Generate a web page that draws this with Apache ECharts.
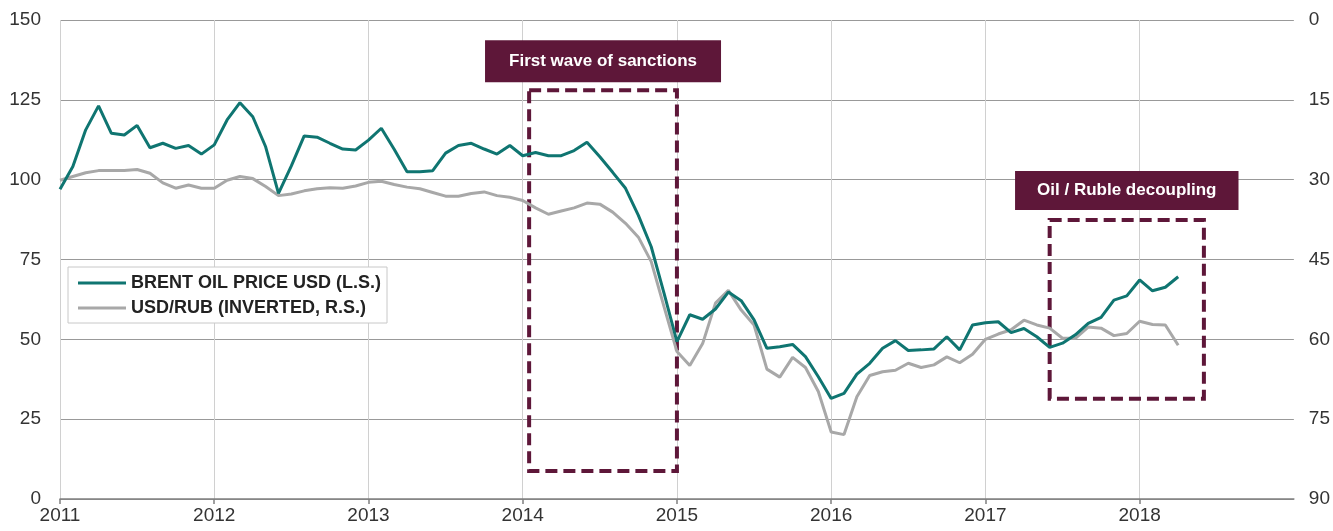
<!DOCTYPE html>
<html>
<head>
<meta charset="utf-8">
<script src="https://cdn.jsdelivr.net/npm/echarts@6/dist/echarts.min.js"></script>
<style>
html,body{margin:0;padding:0;background:#fff;}
#chart{width:1333px;height:531px;}
</style>
</head>
<body>
<div id="chart"></div>
<script>
// Monthly observations, Jan 2011 .. Apr 2018
var years = ['2011','2012','2013','2014','2015','2016','2017','2018','2019'];
var seriesNames = ['BRENT OIL PRICE USD (L.S.)', 'USD/RUB (INVERTED, R.S.)'];
var oil = [97, 104.1, 115.6, 123.1, 114.5, 114, 117, 110, 111.4, 109.8, 110.7, 108,
  110.9, 118.7, 124.1, 119.7, 110.3, 95.7, 104.3, 113.7, 113.3, 111.4, 109.6, 109.3,
  112.4, 116.1, 109.5, 102.5, 102.5, 102.8, 108.3, 110.7, 111.4, 109.6, 108, 110.7,
  107.5, 108.5, 107.5, 107.5, 109.1, 111.7, 107.2, 102.3, 97.3, 88.8, 79, 64.4,
  49.3, 57.7, 56.3, 59.5, 64.8, 62.1, 56.1, 47.2, 47.7, 48.4, 44.6, 38.3,
  31.5, 33.1, 39.1, 42.5, 47.2, 49.6, 46.5, 46.7, 47, 50.8, 46.7, 54.5,
  55.2, 55.5, 52.1, 53.4, 50.8, 47.5, 48.8, 51.4, 55, 56.9, 62.3, 63.6,
  68.6, 65.2, 66.3, 69.6];
var usdrub = [30.1, 29.4, 28.7, 28.3, 28.3, 28.3, 28.1, 28.8, 30.6, 31.6, 31, 31.6,
  31.6, 30.1, 29.4, 29.8, 31.3, 33, 32.7, 32.1, 31.7, 31.5, 31.6, 31.2,
  30.5, 30.3, 30.9, 31.4, 31.7, 32.4, 33.1, 33.1, 32.6, 32.3, 33, 33.3,
  33.9, 35.3, 36.5, 35.9, 35.3, 34.4, 34.6, 36.1, 38.2, 40.8, 45.4, 53.9,
  62.3, 64.9, 60.8, 53.2, 50.8, 54.5, 57.3, 65.6, 67.1, 63.4, 65.3, 69.8,
  77.4, 77.9, 70.8, 66.8, 66.1, 65.8, 64.5, 65.3, 64.8, 63.3, 64.4, 62.8,
  60, 59, 58.2, 56.4, 57.3, 57.9, 59.8, 59.8, 57.7, 57.9, 59.3, 58.9,
  56.6, 57.2, 57.3, 61.1];
var leftTicks = {min: 0, max: 150, interval: 25};
var rightTicks = {min: 0, max: 90, interval: 15};
// annotation boxes: [label, monthStart, monthEnd, oilLow, oilHigh]
var annotations = [
  ['First wave of sanctions', 36.5, 48, 8.8, 128],
  ['Oil / Ruble decoupling', 77, 89, 31.4, 87.4]
];

// month categories Jan 2011 .. Jan 2019
var months = [];
for (var y = 0; y < years.length; y++) {
  for (var m = 1; m <= 12; m++) {
    if (y === years.length - 1 && m > 1) break;
    months.push(years[y] + '-' + (m < 10 ? '0' + m : m));
  }
}
var lastIdx = months.length - 1;
var yearTick = function (idx) { return idx % 12 === 0 && idx < lastIdx; };

var MAROON = '#5e1739';
var TEAL = '#0f7571';
var GREY = '#a8a8a8';
var FONT = "'Liberation Sans', Arial, sans-serif";

var chart = echarts.init(document.getElementById('chart'), null, {renderer: 'canvas'});
chart.setOption({
  animation: false,
  backgroundColor: '#ffffff',
  textStyle: {fontFamily: FONT},
  grid: {left: 60, right: 39, top: 20, bottom: 32, containLabel: false},
  legend: {
    orient: 'vertical', left: 68, top: 267,
    data: seriesNames,
    icon: 'rect', itemWidth: 48, itemHeight: 3, itemGap: 5, itemStyle: {borderWidth: 0},
    backgroundColor: '#fff', borderColor: '#c8c8c8', borderWidth: 1,
    padding: [6, 6, 5, 10],
    textStyle: {fontFamily: FONT, fontWeight: 'bold', fontSize: 18, color: '#222', lineHeight: 20}
  },
  xAxis: [{
    type: 'category', data: months, boundaryGap: false,
    axisLine: {show: true, lineStyle: {color: '#808080', width: 1.5}},
    axisTick: {show: true, interval: yearTick, length: 5, lineStyle: {color: '#808080', width: 1.5}},
    axisLabel: {interval: yearTick, formatter: function (v) { return v.slice(0, 4); },
      fontSize: 19, color: '#333', margin: 7},
    splitLine: {show: true, interval: yearTick, lineStyle: {color: '#d0d0d0', width: 1}}
  }, {
    type: 'value', min: 0, max: lastIdx, show: false
  }],
  yAxis: [{
    type: 'value', min: leftTicks.min, max: leftTicks.max, interval: leftTicks.interval,
    axisLine: {show: false}, axisTick: {show: false},
    axisLabel: {fontSize: 19, color: '#333', margin: 19},
    splitLine: {show: true, lineStyle: {color: '#999', width: 1.2}}
  }, {
    type: 'value', min: rightTicks.min, max: rightTicks.max, interval: rightTicks.interval,
    inverse: true, position: 'right',
    axisLine: {show: false}, axisTick: {show: false},
    axisLabel: {fontSize: 19, color: '#333', margin: 15},
    splitLine: {show: false}
  }],
  series: [{
    name: seriesNames[1], type: 'line', yAxisIndex: 1, data: usdrub,
    showSymbol: false, symbol: 'none', color: GREY,
    itemStyle: {color: GREY},
    lineStyle: {color: GREY, width: 3}, z: 2
  }, {
    name: seriesNames[0], type: 'line', yAxisIndex: 0, data: oil,
    showSymbol: false, symbol: 'none', color: TEAL,
    itemStyle: {color: TEAL},
    lineStyle: {color: TEAL, width: 3}, z: 3
  }, {
    name: 'annotations', type: 'line', xAxisIndex: 1, yAxisIndex: 0, data: [],
    silent: true, z: 4,
    markArea: {
      silent: true,
      itemStyle: {color: 'rgba(0,0,0,0)', borderColor: MAROON, borderWidth: 4, borderType: [12, 6]},
      label: {
        show: true, position: 'top', distance: 6,
        backgroundColor: MAROON, color: '#fff', fontWeight: 'bold', fontSize: 17,
        fontFamily: FONT, lineHeight: 18
      },
      data: annotations.map(function (a, k) {
        return [{
          name: a[0], xAxis: a[1], yAxis: a[4],
          label: k === 0 ? {padding: [12, 24, 12, 24], distance: 6} : {padding: [10, 22, 11, 22], distance: 8}
        }, {xAxis: a[2], yAxis: a[3]}];
      })
    }
  }]
});
</script>
</body>
</html>
